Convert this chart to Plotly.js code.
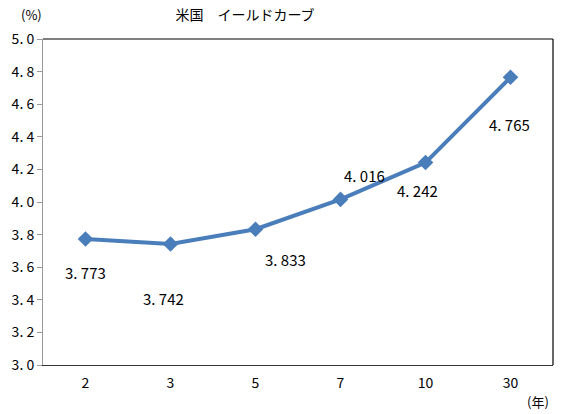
<html>
<head>
<script src="https://cdn.plot.ly/plotly-3.0.1.min.js"></script>
</head>
<body style="margin:0">
<div id="chart" style="width:561px;height:414px"></div>
<script>
// maturities (years) and yields (%)
var maturities = ["2", "3", "5", "7", "10", "30"];
var yields = [3.773, 3.742, 3.833, 4.016, 4.242, 4.765];
var labelTexts = ["3. 773", "3. 742", "3. 833", "4. 016", "4. 242", "4. 765"];
var yTicks = [3.0, 3.2, 3.4, 3.6, 3.8, 4.0, 4.2, 4.4, 4.6, 4.8, 5.0];
var yTickText = ["3. 0", "3. 2", "3. 4", "3. 6", "3. 8", "4. 0", "4. 2", "4. 4", "4. 6", "4. 8", "5. 0"];

// pixel nudges for each value label, as in the original
var labelShift = [[0, -33], [-7, -54], [30, -30], [24, 24], [-8, -28], [-1, -47]];

var font = "Noto Sans CJK JP, sans-serif";

var trace = {
  x: maturities, y: yields,
  type: 'scatter', mode: 'lines+markers',
  line: {color: '#4a7ebb', width: 4},
  marker: {color: '#4a7ebb', size: 12, symbol: 'diamond'},
  hoverinfo: 'none'
};

var annotations = [];
for (var i = 0; i < maturities.length; i++) {
  // category axis: annotation x is the category index
  annotations.push({
    x: i, y: yields[i], xref: 'x', yref: 'y',
    text: labelTexts[i], showarrow: false,
    xshift: labelShift[i][0], yshift: labelShift[i][1],
    font: {family: font, size: 15, color: '#000'}
  });
}
annotations.push({x: -0.0235, y: 1.074, xref: 'paper', yref: 'paper',
  xanchor: 'center', yanchor: 'middle',
  text: '(%)', showarrow: false, font: {family: font, size: 13, color: '#000'}});
annotations.push({x: 0.97, y: -0.113, xref: 'paper', yref: 'paper',
  xanchor: 'center', yanchor: 'middle',
  text: '(年)', showarrow: false, font: {family: font, size: 13, color: '#000'}});

var layout = {
  width: 561, height: 414,
  margin: {l: 43, r: 8, t: 39, b: 49},
  paper_bgcolor: '#fff', plot_bgcolor: '#fff',
  showlegend: false,
  title: {text: '米国　イールドカーブ', x: 245 / 561, xanchor: 'center',
    y: 1 - 15 / 414, yanchor: 'middle', font: {family: font, size: 14, color: '#000'}},
  xaxis: {
    type: 'category', range: [-0.5, 5.5],
    showline: true, linecolor: '#333', linewidth: 1, mirror: false,
    showgrid: false, zeroline: false, ticks: '', ticklabelstandoff: 5,
    tickfont: {family: font, size: 14, color: '#000'}
  },
  yaxis: {
    range: [3.0, 5.0], tickvals: yTicks, ticktext: yTickText,
    showline: true, linecolor: '#999', linewidth: 1,
    showgrid: false, zeroline: false,
    ticks: 'outside', ticklen: 5, tickcolor: '#999',
    tickfont: {family: font, size: 14, color: '#000'}
  },
  shapes: [
    {type: 'line', xref: 'paper', yref: 'paper', x0: 0, x1: 1, y0: 1, y1: 1, line: {color: '#000', width: 1.2}},
    {type: 'line', xref: 'paper', yref: 'paper', x0: 1, x1: 1, y0: 0, y1: 1, line: {color: '#000', width: 1.2}}
  ],
  annotations: annotations
};

Plotly.newPlot('chart', [trace], layout, {staticPlot: true});
</script>
</body>
</html>
